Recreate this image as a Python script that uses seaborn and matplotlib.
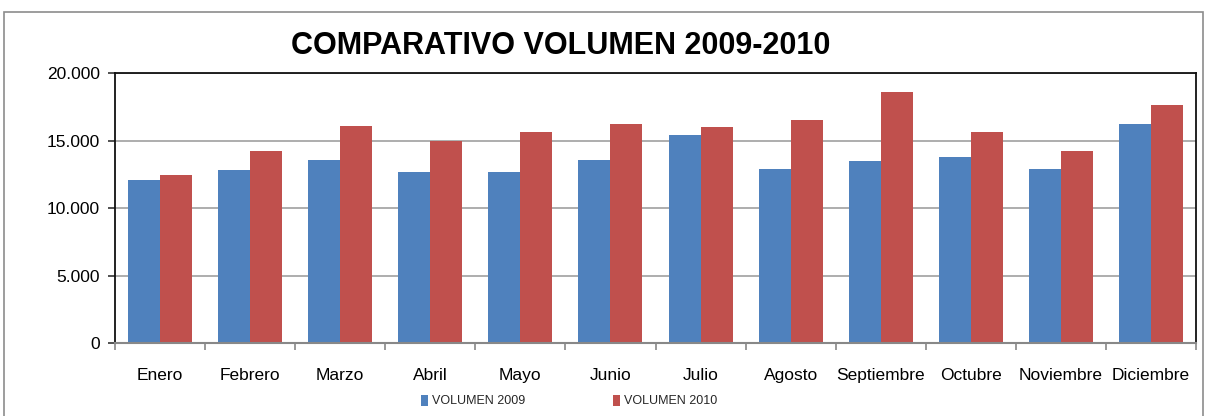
import numpy as np
import pandas as pd
import matplotlib
matplotlib.use("Agg")
import matplotlib.pyplot as plt
from matplotlib.ticker import FuncFormatter, FixedLocator
from matplotlib.patches import Rectangle
import seaborn as sns

months = ["Enero", "Febrero", "Marzo", "Abril", "Mayo", "Junio", "Julio",
          "Agosto", "Septiembre", "Octubre", "Noviembre", "Diciembre"]
vol_2009 = [12100, 12840, 13580, 12690, 12690, 13580, 15430, 12910, 13510, 13800, 12910, 16250]
vol_2010 = [12470, 14270, 16100, 14990, 15650, 16250, 16020, 16540, 18620, 15650, 14250, 17650]
series_names = ["VOLUMEN 2009", "VOLUMEN 2010"]
colors = ["#4F81BD", "#C0504D"]
title = "COMPARATIVO VOLUMEN 2009-2010"

df = pd.DataFrame({
    "mes": months * 2,
    "serie": [series_names[0]] * len(months) + [series_names[1]] * len(months),
    "valor": vol_2009 + vol_2010,
})

sns.set_theme(style="white")
plt.rcParams["font.family"] = ["Liberation Sans", "DejaVu Sans"]

fig = plt.figure(figsize=(12.09, 4.16), dpi=100)
ax = fig.add_axes([115 / 1209, 1 - 343.3 / 416, (1196 - 115) / 1209, (343.3 - 73.3) / 416])

sns.barplot(data=df, x="mes", y="valor", hue="serie", order=months,
            hue_order=series_names, palette=colors, width=0.71,
            saturation=1, ax=ax, legend=True, linewidth=0)

ax.set_ylim(0, 20000)
ax.set_xlim(-0.5, len(months) - 0.5)
ax.set_yticks([0, 5000, 10000, 15000, 20000])
ax.yaxis.set_major_formatter(FuncFormatter(lambda v, p: f"{v:,.0f}".replace(",", ".")))
ax.yaxis.grid(True, color="#A0A0A0", linewidth=1.2)
ax.set_axisbelow(True)
ax.set_xlabel("")
ax.set_ylabel("")

ax.xaxis.set_minor_locator(FixedLocator(np.arange(-0.5, len(months), 1.0)))
ax.tick_params(axis="x", which="major", length=0, pad=18, labelsize=12.5, colors="black")
ax.tick_params(axis="x", which="minor", length=5, width=1.2, color="#888888", bottom=True)
ax.tick_params(axis="y", which="major", length=5, width=1.2, color="#333333", left=True,
               labelsize=12.5, pad=6, labelcolor="black")

for side in ["left", "top", "right"]:
    ax.spines[side].set_visible(True)
    ax.spines[side].set_color("#111111")
    ax.spines[side].set_linewidth(1.3)
ax.spines["bottom"].set_color("#888888")
ax.spines["bottom"].set_linewidth(1.5)

handles, labels = ax.get_legend_handles_labels()
ax.legend(handles, labels, loc="center", bbox_to_anchor=(569 / 1209, 1 - 401 / 416),
          bbox_transform=fig.transFigure, ncol=2, frameon=False, fontsize=9,
          handlelength=0.6, handleheight=1.0, handletextpad=0.3, columnspacing=7)

fig.text(561 / 1209, 1 - 46 / 416, title, ha="center", va="center",
         fontsize=22, fontweight="bold", color="black")

fig.patches.append(Rectangle((4 / 1209, -0.1), 1199 / 1209, 1.1 - 12 / 416,
                             transform=fig.transFigure, fill=False,
                             edgecolor="#8C8C8C", linewidth=1.2))

fig.savefig("out.png", dpi=100)
